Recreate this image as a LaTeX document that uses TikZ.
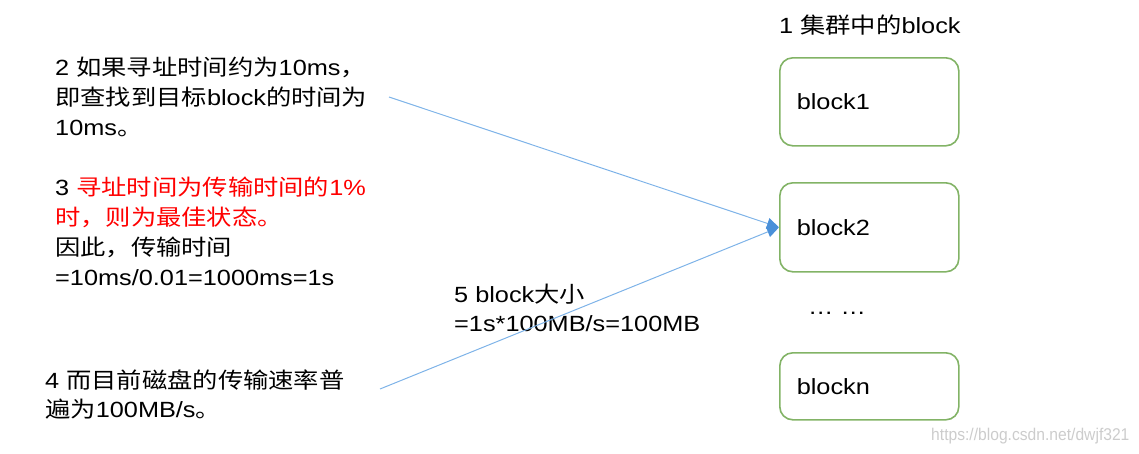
\documentclass[tikz,border=0pt]{standalone}
\usepackage{fontspec}
\setmainfont{Liberation Sans}[FakeStretch=1.15]
\newfontfamily\cjk{Noto Sans CJK SC}[FakeStretch=1.15]
\newfontfamily\wmfont{Liberation Sans}[FakeStretch=0.92]
\usetikzlibrary{arrows.meta}
\definecolor{boxgreen}{HTML}{82B366}
\definecolor{linkblue}{HTML}{7EB3E8}
\definecolor{tipblue}{HTML}{4A90D9}
\definecolor{wmgray}{HTML}{CCCCCC}
\definecolor{hlred}{HTML}{FF0000}
\tikzset{
  txt/.style={anchor=base west, inner sep=0pt, font=\fontsize{22}{30}\selectfont},
  blockbox/.style={draw=boxgreen, line width=1.6pt, rounded corners=13pt,
    minimum width=179pt, text width=145pt, inner xsep=17pt, inner ysep=0pt,
    align=left, anchor=north west, font=\fontsize{22}{30}\selectfont},
  link/.style={draw=linkblue, line width=1pt,
    -{Triangle[length=12pt,width=11pt,color=tipblue]}}
}
\begin{document}
\begin{tikzpicture}[x=1pt,y=-1pt]
\useasboundingbox (0,0) rectangle (1139,453);
% title
\node[txt] (title) at (779,33) {1 {\cjk 集群中的}block};
% blocks
\node[blockbox, minimum height=88pt] (b1) at (779,57) {block1};
\node[blockbox, minimum height=89pt] (b2) at (779,182) {block2};
\node[txt] (dots) at (808,314) {… …};
\node[blockbox, minimum height=67pt] (bn) at (779,352) {blockn};
% text 2
\node[txt] (t2a) at (55,75) {2 {\cjk 如果寻址时间约为}10ms{\cjk ，}};
\node[txt] (t2b) at (55,105) {{\cjk 即查找到目标}block{\cjk 的时间为}};
\node[txt] (t2c) at (55,135) {10ms{\cjk 。}};
% text 3
\node[txt] (t3a) at (55,195) {3 \textcolor{hlred}{{\cjk 寻址时间为传输时间的}1\%}};
\node[txt, text=hlred] (t3b) at (55,225) {{\cjk 时，则为最佳状态。}};
\node[txt] (t3c) at (55,255) {{\cjk 因此，传输时间}};
\node[txt] (t3d) at (55,285) {=10ms/0.01=1000ms=1s};
% text 4
\node[txt] (t4a) at (45,388) {4 {\cjk 而目前磁盘的传输速率普}};
\node[txt] (t4b) at (45,417) {{\cjk 遍为}100MB/s{\cjk 。}};
% text 5
\node[txt] (t5a) at (454,302) {5 block{\cjk 大小}};
\node[txt] (t5b) at (454,331) {=1s*100MB/s=100MB};
% connectors
\coordinate (s1) at (389,97);
\coordinate (s2) at (380,389);
\draw[link] (s1) -- (b2.west);
\draw[link] (s2) -- (b2.west);
% watermark
\node[anchor=base west, inner sep=0pt, text=wmgray, font=\wmfont\fontsize{17}{17}\selectfont] (wm) at (931,440) {https://blog.csdn.net/dwjf321};
\end{tikzpicture}
\end{document}
